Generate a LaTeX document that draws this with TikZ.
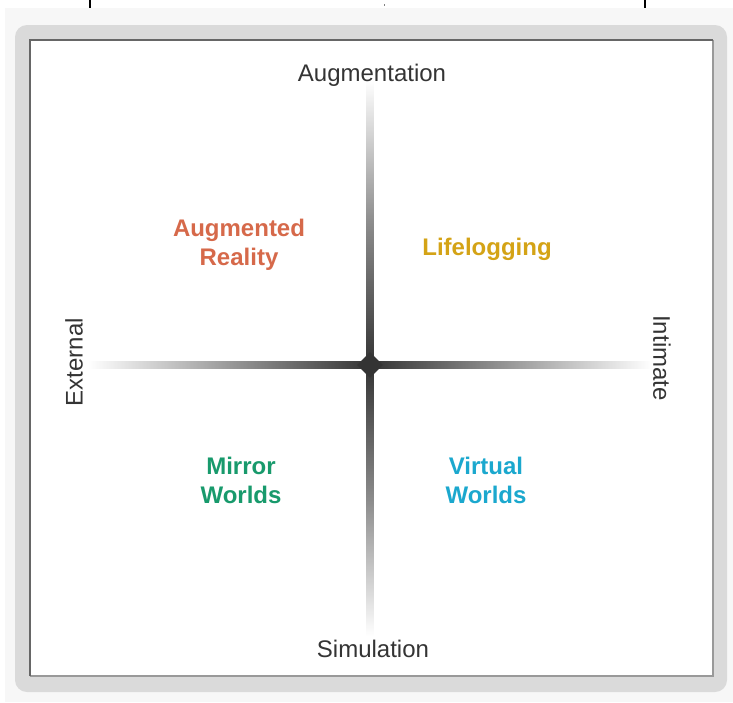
\documentclass[tikz,border=0pt]{standalone}
\usepackage{fontspec}
\setmainfont{Liberation Sans}
\usetikzlibrary{shapes.geometric}

\definecolor{arcolor}{RGB}{214,105,74}
\definecolor{llcolor}{RGB}{212,163,22}
\definecolor{mwcolor}{RGB}{24,154,108}
\definecolor{vwcolor}{RGB}{27,168,206}
\definecolor{axiscolor}{RGB}{52,52,52}
\definecolor{framecolor}{RGB}{218,218,218}

\begin{document}
\begin{tikzpicture}[
    x = 1pt,
    y = -1pt,
    axislabel/.style = {
        font = \fontsize{24}{29}\selectfont,
        text = axiscolor,
        inner sep = 0pt
    },
    quadrant/.style = {
        font = \fontsize{24}{29}\selectfont\bfseries,
        align = center,
        inner sep = 0pt
    },
    tick/.style = {line width = 2pt, black}
]
\useasboundingbox (0,0) rectangle (733,702);

% Background and frame
\fill[black!3] (5,8) rectangle (733,702);
\fill[framecolor, rounded corners = 12pt] (15,25) rectangle (727,692);
\fill[white] (30,40) rectangle (713,676);
\draw[line width = 1.5pt, black!40] (30,676) -- (713,676) -- (713,40);
\draw[line width = 1.5pt, black!60] (30,676) -- (30,40) -- (713,40);

% Ticks on top
\draw[tick] (90,0) -- (90,8);
\draw[line width = 1pt, black!50] (384,4) -- (384,6);
\draw[tick] (645,0) -- (645,8);

% Axes
\coordinate (center) at (370,365);
\coordinate (north) at (370,80);
\coordinate (south) at (370,636);
\coordinate (west) at (88,365);
\coordinate (east) at (652,365);

\shade[top color = white, bottom color = axiscolor, middle color = black!45]
    ([xshift = -3.5pt]north) rectangle ([xshift = 3.5pt]center);
\shade[top color = axiscolor, bottom color = white, middle color = black!45]
    ([xshift = -3.5pt]center) rectangle ([xshift = 3.5pt]south);
\shade[left color = white, right color = axiscolor, middle color = black!40]
    ([yshift = -3.5pt]west) rectangle ([yshift = 3.5pt]center);
\shade[left color = axiscolor, right color = white, middle color = black!40]
    ([yshift = -3.5pt]center) rectangle ([yshift = 3.5pt]east);
\node[diamond, fill = axiscolor, minimum size = 26pt, inner sep = 0pt] (hub) at (center) {};

% Axis labels
\node[axislabel, anchor = base] (augmentation) at (372,81) {Augmentation};
\node[axislabel, anchor = base] (simulation) at (373,657) {Simulation};
\node[axislabel, rotate = 90] (external) at (74,362) {External};
\node[axislabel, rotate = -90] (intimate) at (662,358) {Intimate};

% Quadrants (base = last line)
\node[quadrant, text = arcolor, anchor = base] (ar) at (239,265) {Augmented\\Reality};
\node[quadrant, text = llcolor, anchor = base] (ll) at (487,255) {Lifelogging};
\node[quadrant, text = mwcolor, anchor = base] (mw) at (241,503) {Mirror\\Worlds};
\node[quadrant, text = vwcolor, anchor = base] (vw) at (486,503) {Virtual\\Worlds};

\end{tikzpicture}
\end{document}
